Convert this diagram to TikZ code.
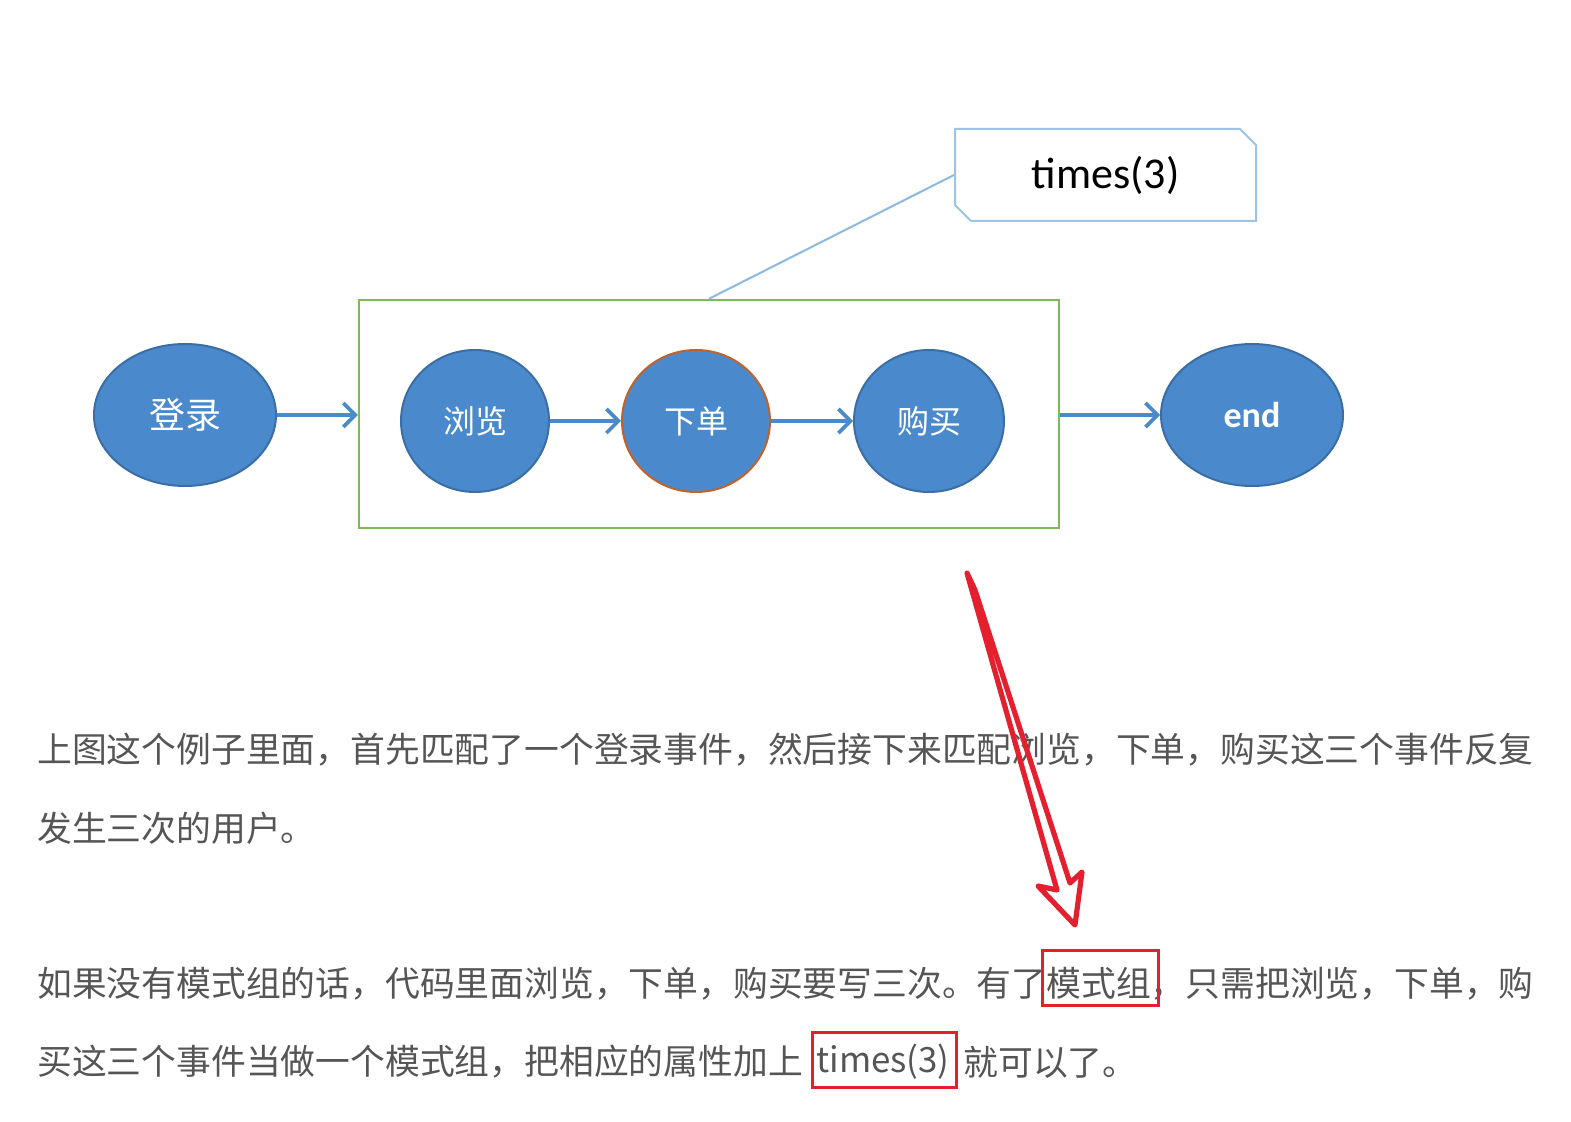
\documentclass[tikz,border=0pt]{standalone}
\usepackage{fontspec}
\setmainfont{Noto Sans CJK SC}
\newfontfamily\cjk{Noto Sans CJK SC}
\newfontfamily\calib{Carlito}
\usetikzlibrary{shapes.geometric,shapes.misc,arrows.meta}
\XeTeXlinebreaklocale "zh"
\XeTeXlinebreakskip=0pt plus 3pt
\definecolor{nodeblue}{HTML}{4A8ACC}
\definecolor{nodeedge}{HTML}{3A6EA5}
\definecolor{arrowblue}{HTML}{4A8ACB}
\definecolor{grpgreen}{HTML}{7DB85B}
\definecolor{calloutblue}{HTML}{9DC3E6}
\definecolor{orderedge}{HTML}{C0622A}
\definecolor{txtgray}{HTML}{555555}
\definecolor{markred}{HTML}{E5202E}
\begin{document}
\begin{tikzpicture}[x=0.5pt,y=-0.5pt,
  evt/.style={ellipse,draw=nodeedge,line width=1pt,fill=nodeblue,text=white,inner sep=0pt,
    font=\cjk\fontsize{16}{16}\selectfont},
  flow/.style={draw=arrowblue,line width=1.8pt,-{Straight Barb[length=6pt,width=12pt,line width=1.8pt]}},
  para/.style={anchor=west,inner sep=0pt,text=txtgray,font=\cjk\fontsize{17.4}{17.4}\selectfont},
  markbox/.style={draw=markred,line width=1.5pt,inner sep=0pt}
]
\useasboundingbox (0,0) rectangle (1571,1122);
% group box
\node[draw=grpgreen,line width=1.2pt,minimum width=350pt,minimum height=114pt,inner sep=0pt] (group) at (709,414) {};
% events
\node[evt,minimum width=91pt,minimum height=71pt,font=\cjk\fontsize{18}{18}\selectfont] (login) at (185,415) {登录};
\node[evt,minimum width=74pt,minimum height=71pt] (browse) at (475,421) {浏览};
\node[evt,draw=orderedge,minimum width=74pt,minimum height=71pt] (order) at (696,421) {下单};
\node[evt,minimum width=75pt,minimum height=71pt] (buy) at (929,421) {购买};
\node[evt,minimum width=91pt,minimum height=71pt,font=\calib\bfseries\fontsize{18}{18}\selectfont] (end) at (1252,415) {end};
% flows
\draw[flow] (login.east) -- (login -| group.west);
\draw[flow] (browse.east) -- (order.west);
\draw[flow] (order.east) -- (buy.west);
\draw[flow] (end -| group.east) -- (end.west);
% callout
\node[chamfered rectangle,chamfered rectangle corners={north east,south west},
  chamfered rectangle xsep=4pt,chamfered rectangle ysep=4pt,
  draw=calloutblue,line width=1pt,minimum width=150.5pt,minimum height=46pt,inner sep=0pt,
  font=\calib\fontsize{22}{22}\selectfont] (callout) at (1105.5,175) {times(3)};
\draw[draw=calloutblue!80!nodeblue,line width=1pt] (callout.west) -- (group.north);
% paragraph text
\node[para] (l1) at (37,750) {\hbox to 747.5pt{上图这个例子里面，首先匹配了一个登录事件，然后接下来匹配浏览，下单，购买这三个事件反复}};
\node[para] (l2) at (37,828) {发生三次的用户。};
\node[para] (l3) at (37,984) {\hbox to 747.5pt{如果没有模式组的话，代码里面浏览，下单，购买要写三次。有了模式组，只需把浏览，下单，购}};
\node[para] (l4) at (37,1062) {买这三个事件当做一个模式组，把相应的属性加上};
\node[para] (l4b) at (816,1062) {times(3)};
\node[para] (l4c) at (963,1062) {就可以了。};
% red marks
\node[markbox,minimum width=58pt,minimum height=27.5pt] (box1) at (1100,978.5) {};
\node[markbox,minimum width=72pt,minimum height=27.5pt] (box2) at (884,1060.5) {};
% hand-drawn red arrow
\draw[markred,line width=2.6pt,line join=round,line cap=round]
  (967,573) -- (1057,890) -- (1038,886) -- (1075,925) -- (1082,872) -- (1070,883) -- (975,590) -- cycle;
\end{tikzpicture}
\end{document}
